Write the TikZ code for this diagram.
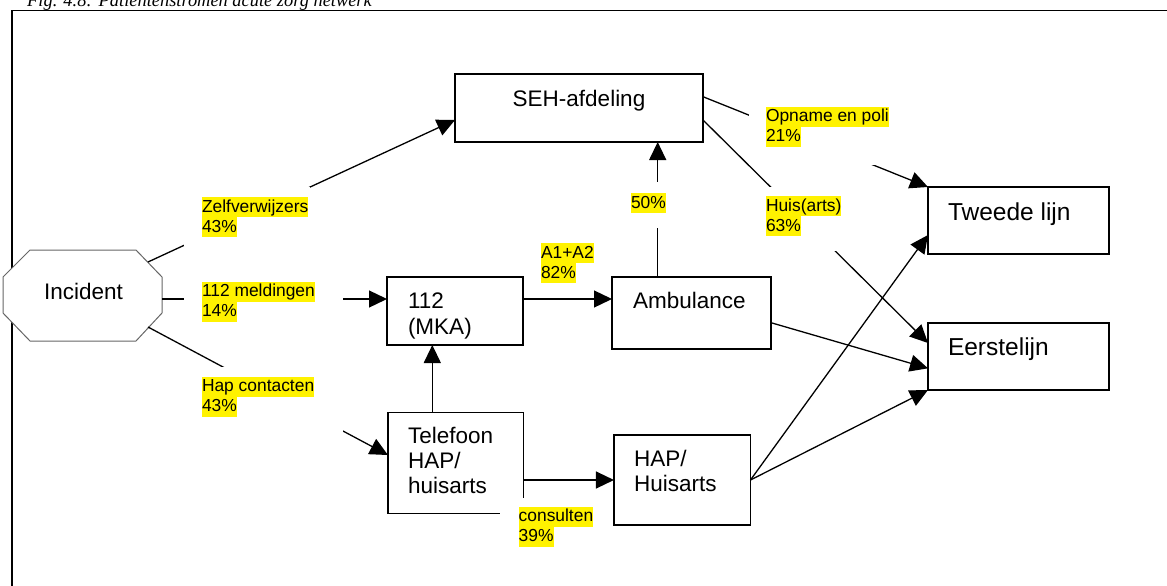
\documentclass[tikz,border=0pt]{standalone}
\usepackage{fontspec}
\setmainfont{Liberation Sans}
\newfontfamily\titlefont{Liberation Serif}
\usetikzlibrary{arrows.meta,calc}
\setlength{\fboxsep}{0pt}
\newcommand\hlt[1]{\colorbox{yellow}{\rule[-5pt]{0pt}{20pt}#1}}
\tikzset{
  box/.style={draw=black, line width=1.3pt, fill=white, inner sep=0pt, outer sep=0pt},
  txt/.style={inner sep=0pt, outer sep=0pt, anchor=base west, font=\fontsize{22.5}{26}\selectfont},
  lab/.style={inner sep=0pt, outer sep=0pt, anchor=base west, font=\fontsize{17.4}{20}\selectfont\def\arraystretch{0}},
  gapbox/.style={fill=white, draw=none, inner sep=0pt, outer sep=0pt, anchor=north west},
  conn/.style={line width=1.3pt, -{Triangle[length=18pt,width=17pt]}},
}
\begin{document}
\begin{tikzpicture}[x=1pt,y=-1pt]
\useasboundingbox (0,0) rectangle (1167,586);
% title (cut off at the top, as in the reference)
\node[anchor=base west, inner sep=0pt, font=\titlefont\itshape\fontsize{18.4}{18.4}\selectfont] (title) at (27,6.5) {Fig. 4.8: Patiëntenstromen acute zorg netwerk};
% frame
\draw[line width=1.1pt] (12,620) -- (12,10.7) -- (1200,10.7);
% Incident octagon
\draw[draw=black!60, line width=1pt, fill=white] (3,277) -- (30,250) -- (136,250) -- (162,277) -- (162,313) -- (136,341) -- (30,341) -- (3,313) -- cycle;
\coordinate (incur) at (148,262);
\coordinate (incr) at (162,299);
\coordinate (inclr) at (148,327);
\node[txt] (inc) at (44,299) {Incident};
% boxes
\node[box, minimum width=248pt, minimum height=68pt] (seh) at (579,108) {};
\node[box, minimum width=181pt, minimum height=67pt] (tw) at (1018.5,220.5) {};
\node[box, minimum width=181pt, minimum height=67pt] (ee) at (1018.5,356.5) {};
\node[box, minimum width=136pt, minimum height=68pt] (m112) at (455,311) {};
\node[box, minimum width=159pt, minimum height=72pt] (amb) at (691.5,313) {};
\node[box, minimum width=135.5pt, minimum height=101.5pt] (tel) at (455.7,463) {};
\node[box, minimum width=136.5pt, minimum height=90pt] (hap) at (682.2,480) {};
% box texts
\node[txt, anchor=base] (seht) at (579,106) {SEH-afdeling};
\node[txt, font=\fontsize{24.5}{28}\selectfont] (twt) at (948,220.7) {Tweede lijn};
\node[txt, font=\fontsize{24.5}{28}\selectfont] (eet) at (948,355.7) {Eerstelijn};
\node[txt, font=\fontsize{22.5}{26.6}\selectfont] (m112t) at (408,308) {\begin{tabular}[t]{@{}l@{}}112\\(MKA)\end{tabular}};
\node[txt] (ambt) at (633,308.3) {Ambulance};
\node[txt, font=\fontsize{22.5}{25}\selectfont] (telt) at (408,443.5) {\begin{tabular}[t]{@{}l@{}}Telefoon\\HAP/\\huisarts\end{tabular}};
\node[txt, font=\fontsize{22.5}{25.7}\selectfont] (hapt) at (634,466) {\begin{tabular}[t]{@{}l@{}}HAP/\\Huisarts\end{tabular}};
% connectors
\draw[conn] (incur) -- ([yshift=-12pt]seh.west);
\draw[conn] (incr) -- (incr -| m112.west);
\draw[conn] (inclr) -- ([yshift=8pt]tel.west);
\draw[conn] ([yshift=12pt]m112.east) -- ([yshift=12pt]m112.east -| amb.west);
\draw[conn] ([xshift=-23.4pt]tel.north) -- ([xshift=-23.4pt]tel.north |- m112.south);
\draw[conn] ([xshift=-33.8pt]amb.north) -- ([xshift=-33.8pt]amb.north |- seh.south);
\draw[conn] ([yshift=-17pt]tel.east) -- ([yshift=-17pt]tel.east -| hap.west);
\draw[conn] ([yshift=11.3pt]seh.east) -- (tw.north west);
\draw[conn] ([yshift=-12pt]seh.east) -- ([yshift=13.5pt]ee.west);
\draw[conn] ([yshift=-9.7pt]amb.east) -- ([yshift=-11.8pt]ee.west);
\draw[conn] (hap.east) -- ([yshift=-14.5pt]tw.west);
\draw[conn] (hap.east) -- (ee.south west);
% white label boxes
\node[gapbox, minimum width=126pt, minimum height=59pt] (gz) at (184,187) {};
\node[gapbox, minimum width=159pt, minimum height=45pt] (g112) at (184,280) {};
\node[gapbox, minimum width=141pt, minimum height=67pt] (ghap) at (202,367) {};
\node[gapbox, minimum width=45pt, minimum height=46pt] (g50) at (625,182) {};
\node[gapbox, minimum width=143pt, minimum height=59.5pt] (gop) at (749,105) {};
\node[gapbox, minimum width=85pt, minimum height=64.3pt] (ghuis) at (760,186.7) {};
\node[gapbox, minimum width=106pt, minimum height=55pt] (gcons) at (500,497.5) {};
% labels
\node[lab] (lz) at (202,212.3) {\begin{tabular}[t]{@{}l@{}}\hlt{Zelfverwijzers}\\\hlt{43\%}\end{tabular}};
\node[lab] (l112) at (202,296.7) {\begin{tabular}[t]{@{}l@{}}\hlt{112 meldingen}\\\hlt{14\%}\end{tabular}};
\node[lab] (lhap) at (202,391.7) {\begin{tabular}[t]{@{}l@{}}\hlt{Hap contacten}\\\hlt{43\%}\end{tabular}};
\node[lab] (la) at (541,258.3) {\begin{tabular}[t]{@{}l@{}}\hlt{A1+A2}\\\hlt{82\%}\end{tabular}};
\node[lab] (l50) at (631,208) {\hlt{50\%}};
\node[lab] (lop) at (766,121.7) {\begin{tabular}[t]{@{}l@{}}\hlt{Opname en poli}\\\hlt{21\%}\end{tabular}};
\node[lab] (lhuis) at (766,211) {\begin{tabular}[t]{@{}l@{}}\hlt{Huis(arts)}\\\hlt{63\%}\end{tabular}};
\node[lab] (lcons) at (518.7,521.7) {\begin{tabular}[t]{@{}l@{}}\hlt{consulten}\\\hlt{39\%}\end{tabular}};
\end{tikzpicture}
\end{document}
